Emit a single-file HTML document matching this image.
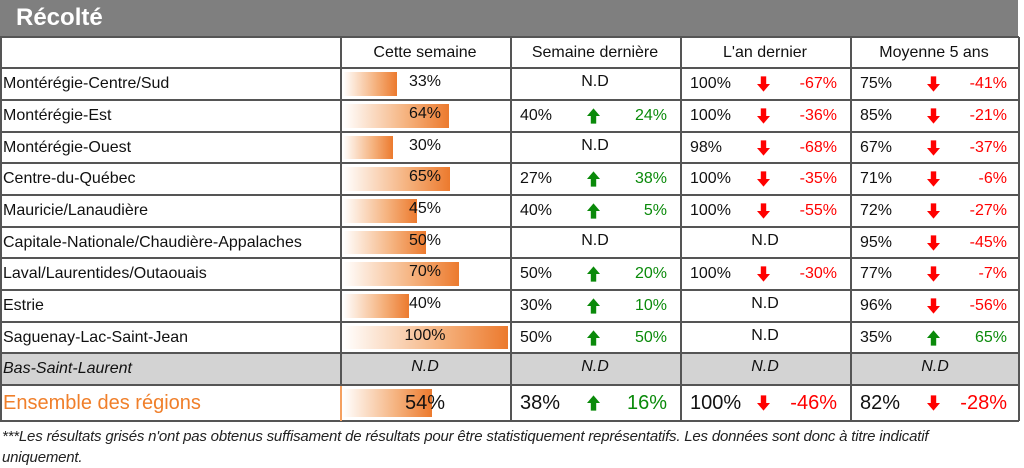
<!DOCTYPE html>
<html><head><meta charset="utf-8"><style>
body{margin:0;width:1024px;height:468px;background:#fff;font-family:"Liberation Sans",sans-serif;position:relative;overflow:hidden;color:#111}
.a{position:absolute;white-space:nowrap}
#title{left:0;top:0;width:1018px;height:36px;background:#7f7f7f;color:#fff;font-size:24px;font-weight:600;line-height:36px;padding-left:16px;box-sizing:border-box}
</style></head><body>
<div id="title" class="a">Récolté</div>
<div id="tbl"></div>
<div class="a" style="left:2px;top:426px;font-size:15px;font-style:italic;line-height:21px;color:#222;letter-spacing:-0.2px">***Les résultats grisés n'ont pas obtenus suffisament de résultats pour être statistiquement représentatifs. Les données sont donc à titre indicatif<br>uniquement.</div>
<script>
const regions=["Montérégie-Centre/Sud","Montérégie-Est","Montérégie-Ouest","Centre-du-Québec","Mauricie/Lanaudière","Capitale-Nationale/Chaudière-Appalaches","Laval/Laurentides/Outaouais","Estrie","Saguenay-Lac-Saint-Jean","Bas-Saint-Laurent","Ensemble des régions"];
const thisWeek=[33,64,30,65,45,50,70,40,100,null,54];
const lastWeek=[null,40,null,27,40,null,50,30,50,null,38];
const lastWeekDiff=[null,24,null,38,5,null,20,10,50,null,16];
const lastYear=[100,100,98,100,100,null,100,null,null,null,100];
const lastYearDiff=[-67,-36,-68,-35,-55,null,-30,null,null,null,-46];
const avg5=[75,85,67,71,72,95,77,96,35,null,82];
const avg5Diff=[-41,-21,-37,-6,-27,-45,-7,-56,65,null,-28];
const headers=["Cette semaine","Semaine dernière","L'an dernier","Moyenne 5 ans"];

const T=document.getElementById('tbl');
const colX=[0,340,510,680,850,1018];
const rowY=[37,68,100,132,163,195,227,258,290,322,353,385,421];
function add(html,css,name,inter){const d=document.createElement('div');d.className='a';d.innerHTML=html;d.style.cssText=css;


T.appendChild(d);return d;}
add('', `left:0;top:${rowY[10]}px;width:1018px;height:${rowY[11]-rowY[10]}px;background:#d3d3d3`,'greyed-row-bg',false);
headers.forEach((h,i)=>add(h,`left:${colX[i+1]}px;top:37px;width:${colX[i+2]-colX[i+1]}px;height:31px;line-height:31px;text-align:center;font-size:16px`,'column-header',false));
const barW=165;
function arrow(up){const c=up?'#0a8a0a':'#f00';
return up?`<svg width="13" height="16" viewBox="0 0 12 14"><path d="M6 0L12 7H8.5V14H3.5V7H0Z" fill="${c}"/></svg>`:`<svg width="13" height="16" viewBox="0 0 12 14"><path d="M6 14L12 7H8.5V0H3.5V7H0Z" fill="${c}"/></svg>`;}
function triple(ci,v,d,y,h,fs,grey){
 const x=colX[ci];
 if(v==null){add('N.D',`left:${x}px;top:${y}px;width:170px;height:${h}px;line-height:${h-4}px;text-align:center;font-size:${fs}px;${grey?'font-style:italic;':''}`,'not-available',false);return;}
 add(v+'%',`left:${x+10}px;top:${y}px;line-height:${h}px;font-size:${fs}px`,'value',false);
 const up=d>=0;
 add(arrow(up),`left:${x+77}px;top:${y+(h-16)/2}px;height:16px;line-height:0`,up?'arrow-up':'arrow-down',false);
 add(d+'%',`right:${1024-(x+157)}px;top:${y}px;line-height:${h}px;font-size:${fs}px;color:${up?'#0a8a0a':'#f00'}`,'difference',false);
}
regions.forEach((r,i)=>{
 const y=rowY[i+1],h=rowY[i+2]-y,last=i==10,grey=i==9;
 const fs=last?20:16;
 add(r,`left:3px;top:${y}px;line-height:${h}px;font-size:${last?20:16}px;${last?'color:#f07f2a;':''}${grey?'font-style:italic;':''}`,'region-label',false);
 const v=thisWeek[i];
 if(v!=null){
  const bw=barW*v/100;
  add('',`left:343px;top:${y+4}px;width:${bw}px;height:${h-8}px;background:linear-gradient(to right,#fff,#f5b27e 60%,#ec7a2e)`,'bar-this-week',false);
  add(v+'%',`left:340px;top:${y}px;width:170px;line-height:${h-(last?0:4)}px;text-align:center;font-size:${fs}px`,'bar-value',false);
 } else add('N.D',`left:340px;top:${y}px;width:170px;line-height:${h-4}px;text-align:center;font-size:16px;font-style:italic`,'not-available',false);
 triple(2,lastWeek[i],lastWeekDiff[i],y,h,fs,grey);
 triple(3,lastYear[i],lastYearDiff[i],y,h,fs,grey);
 triple(4,avg5[i],avg5Diff[i],y,h,fs,grey);
});
rowY.forEach(y=>add('',`left:0;top:${y-1}px;width:1019px;height:2px;background:#555`,'row-line',false));
colX.forEach(x=>add('',`left:${x}px;top:37px;width:2px;height:${421-37}px;background:#555`,'col-line',false));
add('',`left:340px;top:386px;width:2px;height:35px;background:#f5a060`,'total-highlight',false);
</script>
</body></html>
